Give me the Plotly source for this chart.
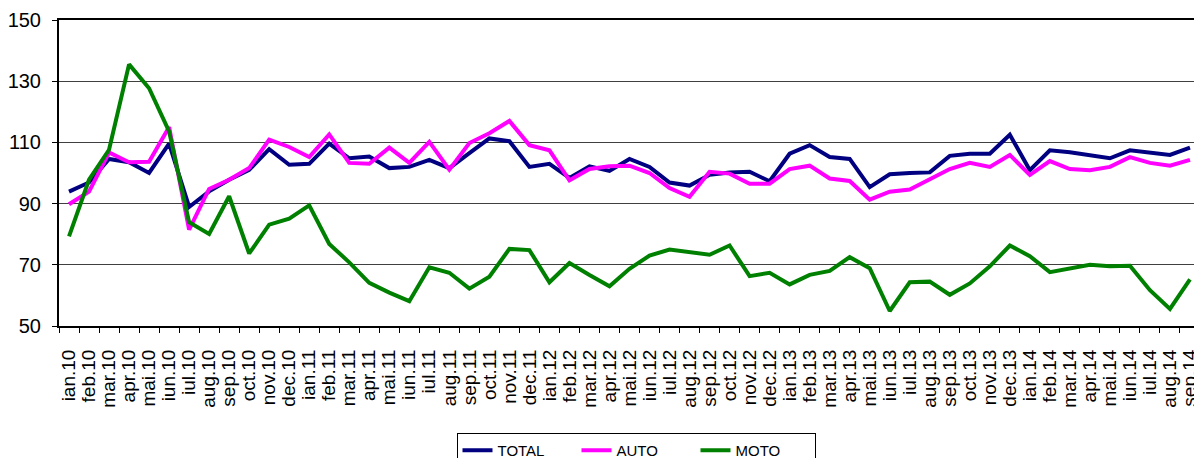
import plotly.graph_objects as go

months = ["ian", "feb", "mar", "apr", "mai", "iun", "iul", "aug", "sep", "oct", "nov", "dec"]
categories = []
for yr in range(10, 15):
    for m in months:
        categories.append(f"{m}.{yr}")
categories = categories[:57]  # ian.10 .. sep.14

total = [93.9, 96.9, 104.6, 103.5, 100.0, 109.6, 88.9, 94.0, 97.8, 101.0,
         107.8, 102.7, 103.0, 109.6, 104.8, 105.4, 101.6, 102.0, 104.3, 101.6,
         106.5, 111.3, 110.4, 102.0, 103.0, 98.4, 102.2, 100.7, 104.6, 102.0,
         96.9, 95.9, 99.4, 100.2, 100.4, 97.3, 106.3, 109.1, 105.2, 104.6,
         95.4, 99.6, 100.0, 100.2, 105.6, 106.3, 106.3, 112.5, 100.9, 107.4,
         106.8, 105.9, 104.8, 107.4, 106.5, 105.9, 108.3]

auto = [89.8, 93.9, 106.7, 103.5, 103.7, 115.0, 81.5, 94.8, 97.8, 101.6,
        110.9, 108.5, 105.2, 112.6, 103.3, 103.0, 108.3, 103.3, 110.2, 101.1,
        109.8, 113.0, 117.0, 109.1, 107.4, 97.6, 101.3, 102.2, 102.4, 100.0,
        95.1, 92.2, 100.4, 99.8, 96.5, 96.5, 101.3, 102.4, 98.2, 97.4,
        91.3, 93.9, 94.6, 97.8, 101.3, 103.3, 102.0, 105.9, 99.4, 103.9,
        101.3, 100.9, 102.0, 105.2, 103.3, 102.4, 104.3]

moto = [79.3, 97.8, 107.6, 135.5, 127.7, 113.6, 83.9, 80.1, 92.4, 73.7,
        83.1, 85.1, 89.4, 76.8, 70.8, 64.1, 60.9, 58.1, 69.2, 67.4,
        62.2, 66.1, 75.2, 74.8, 64.3, 70.6, 66.7, 63.0, 68.7, 73.0,
        75.0, 74.1, 73.3, 76.3, 66.3, 67.4, 63.6, 66.7, 68.0, 72.5,
        68.9, 54.9, 64.3, 64.5, 60.2, 63.9, 69.5, 76.3, 72.8, 67.6,
        68.9, 70.0, 69.5, 69.7, 61.7, 55.6, 65.2]

series = [("TOTAL", total, "#000080"), ("AUTO", auto, "#FF00FF"), ("MOTO", moto, "#008000")]

FONT = "Liberation Sans, Arial, sans-serif"

fig = go.Figure()
for name, vals, col in series:
    fig.add_trace(go.Scatter(x=categories, y=vals, name=name, mode="lines",
                             line=dict(color=col, width=4)))

# page body has an 8px default margin; figure sized to fill the 1202x458 window
fig.update_layout(
    width=1194, height=450,
    margin=dict(l=51, r=2, t=12, b=132, autoexpand=False),
    paper_bgcolor="white", plot_bgcolor="white",
    font=dict(family=FONT, color="black"),
    showlegend=True,
    legend=dict(orientation="h", x=0.5057, xanchor="center", y=-0.3497, yanchor="top",
                bordercolor="black", borderwidth=1, bgcolor="white",
                font=dict(size=15, family=FONT), entrywidth=74, entrywidthmode="pixels",
                tracegroupgap=0),
)
fig.update_xaxes(type="category", tickmode="array", tickvals=categories, ticktext=categories,
                 tickangle=-90, tickfont=dict(size=19, family=FONT),
                 showline=True, linecolor="black", linewidth=2, mirror=True,
                 ticks="outside", ticklen=5, tickcolor="black", tickson="boundaries",
                 ticklabelstandoff=14, automargin=False,
                 showgrid=False, range=[-0.5, 56.5])
fig.update_yaxes(range=[50, 150], tickvals=[50, 70, 90, 110, 130, 150],
                 tickfont=dict(size=20, family=FONT),
                 showline=True, linecolor="black", linewidth=2, mirror=True,
                 ticks="outside", ticklen=5, tickcolor="black",
                 ticklabelstandoff=7, automargin=False,
                 showgrid=True, gridcolor="#404040", gridwidth=1, zeroline=False)

fig.write_html("out.html")
